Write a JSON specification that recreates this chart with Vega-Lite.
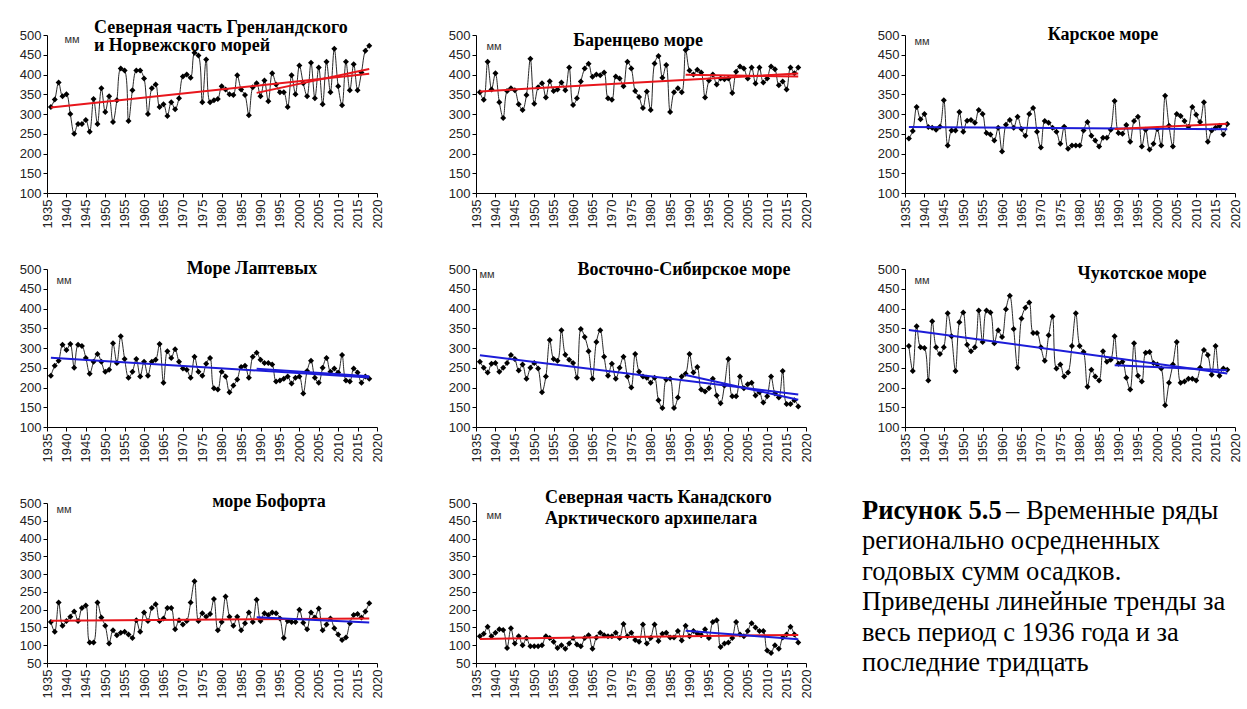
{
"$schema": "https://vega.github.io/schema/vega-lite/v6.json",
"background": "white",
"padding": {"left": 19, "top": 19, "right": 5, "bottom": 5},
"bounds": "flush",
"columns": 3,
"spacing": {"row": 76, "column": 99},
"datasets": {
"G": [{"y":1936,"v":318},{"y":1937,"v":337},{"y":1938,"v":380},{"y":1939,"v":345},{"y":1940,"v":350},{"y":1941,"v":300},{"y":1942,"v":250},{"y":1943,"v":275},{"y":1944,"v":275},{"y":1945,"v":285},
{"y":1946,"v":255},{"y":1947,"v":338},{"y":1948,"v":275},{"y":1949,"v":365},{"y":1950,"v":305},{"y":1951,"v":345},{"y":1952,"v":280},{"y":1953,"v":335},{"y":1954,"v":415},{"y":1955,"v":410},
{"y":1956,"v":282},{"y":1957,"v":360},{"y":1958,"v":410},{"y":1959,"v":410},{"y":1960,"v":390},{"y":1961,"v":300},{"y":1962,"v":365},{"y":1963,"v":375},{"y":1964,"v":318},{"y":1965,"v":325},
{"y":1966,"v":295},{"y":1967,"v":330},{"y":1968,"v":312},{"y":1969,"v":340},{"y":1970,"v":395},{"y":1971,"v":400},{"y":1972,"v":392},{"y":1973,"v":455},{"y":1974,"v":448},{"y":1975,"v":330},
{"y":1976,"v":438},{"y":1977,"v":330},{"y":1978,"v":335},{"y":1979,"v":338},{"y":1980,"v":370},{"y":1981,"v":362},{"y":1982,"v":350},{"y":1983,"v":348},{"y":1984,"v":398},{"y":1985,"v":362},
{"y":1986,"v":348},{"y":1987,"v":297},{"y":1988,"v":368},{"y":1989,"v":378},{"y":1990,"v":345},{"y":1991,"v":385},{"y":1992,"v":332},{"y":1993,"v":403},{"y":1994,"v":375},{"y":1995,"v":355},
{"y":1996,"v":355},{"y":1997,"v":318},{"y":1998,"v":398},{"y":1999,"v":350},{"y":2000,"v":423},{"y":2001,"v":378},{"y":2002,"v":345},{"y":2003,"v":430},{"y":2004,"v":340},{"y":2005,"v":418},
{"y":2006,"v":325},{"y":2007,"v":432},{"y":2008,"v":355},{"y":2009,"v":465},{"y":2010,"v":370},{"y":2011,"v":322},{"y":2012,"v":432},{"y":2013,"v":360},{"y":2014,"v":426},{"y":2015,"v":360},
{"y":2016,"v":405},{"y":2017,"v":460},{"y":2018,"v":473}],
"B": [{"y":1936,"v":355},{"y":1937,"v":336},{"y":1938,"v":432},{"y":1939,"v":362},{"y":1940,"v":403},{"y":1941,"v":330},{"y":1942,"v":290},{"y":1943,"v":358},{"y":1944,"v":365},{"y":1945,"v":360},
{"y":1946,"v":325},{"y":1947,"v":310},{"y":1948,"v":348},{"y":1949,"v":440},{"y":1950,"v":326},{"y":1951,"v":368},{"y":1952,"v":378},{"y":1953,"v":342},{"y":1954,"v":383},{"y":1955,"v":358},
{"y":1956,"v":362},{"y":1957,"v":380},{"y":1958,"v":360},{"y":1959,"v":418},{"y":1960,"v":323},{"y":1961,"v":340},{"y":1962,"v":382},{"y":1963,"v":415},{"y":1964,"v":427},{"y":1965,"v":394},
{"y":1966,"v":400},{"y":1967,"v":398},{"y":1968,"v":405},{"y":1969,"v":340},{"y":1970,"v":336},{"y":1971,"v":395},{"y":1972,"v":390},{"y":1973,"v":370},{"y":1974,"v":432},{"y":1975,"v":415},
{"y":1976,"v":358},{"y":1977,"v":343},{"y":1978,"v":315},{"y":1979,"v":357},{"y":1980,"v":310},{"y":1981,"v":428},{"y":1982,"v":447},{"y":1983,"v":392},{"y":1984,"v":424},{"y":1985,"v":305},
{"y":1986,"v":355},{"y":1987,"v":365},{"y":1988,"v":355},{"y":1989,"v":462},{"y":1990,"v":410},{"y":1991,"v":400},{"y":1992,"v":412},{"y":1993,"v":405},{"y":1994,"v":342},{"y":1995,"v":385},
{"y":1996,"v":400},{"y":1997,"v":375},{"y":1998,"v":390},{"y":1999,"v":388},{"y":2000,"v":390},{"y":2001,"v":353},{"y":2002,"v":407},{"y":2003,"v":420},{"y":2004,"v":415},{"y":2005,"v":390},
{"y":2006,"v":418},{"y":2007,"v":377},{"y":2008,"v":418},{"y":2009,"v":380},{"y":2010,"v":390},{"y":2011,"v":420},{"y":2012,"v":413},{"y":2013,"v":373},{"y":2014,"v":382},{"y":2015,"v":362},
{"y":2016,"v":418},{"y":2017,"v":403},{"y":2018,"v":418}],
"K": [{"y":1936,"v":238},{"y":1937,"v":257},{"y":1938,"v":318},{"y":1939,"v":287},{"y":1940,"v":300},{"y":1941,"v":267},{"y":1942,"v":265},{"y":1943,"v":260},{"y":1944,"v":268},{"y":1945,"v":335},
{"y":1946,"v":220},{"y":1947,"v":258},{"y":1948,"v":258},{"y":1949,"v":305},{"y":1950,"v":255},{"y":1951,"v":283},{"y":1952,"v":285},{"y":1953,"v":278},{"y":1954,"v":310},{"y":1955,"v":300},
{"y":1956,"v":252},{"y":1957,"v":248},{"y":1958,"v":233},{"y":1959,"v":265},{"y":1960,"v":205},{"y":1961,"v":273},{"y":1962,"v":285},{"y":1963,"v":265},{"y":1964,"v":293},{"y":1965,"v":262},
{"y":1966,"v":245},{"y":1967,"v":300},{"y":1968,"v":315},{"y":1969,"v":255},{"y":1970,"v":215},{"y":1971,"v":282},{"y":1972,"v":278},{"y":1973,"v":265},{"y":1974,"v":255},{"y":1975,"v":225},
{"y":1976,"v":268},{"y":1977,"v":212},{"y":1978,"v":220},{"y":1979,"v":220},{"y":1980,"v":220},{"y":1981,"v":258},{"y":1982,"v":280},{"y":1983,"v":245},{"y":1984,"v":233},{"y":1985,"v":218},
{"y":1986,"v":240},{"y":1987,"v":240},{"y":1988,"v":260},{"y":1989,"v":333},{"y":1990,"v":252},{"y":1991,"v":250},{"y":1992,"v":272},{"y":1993,"v":230},{"y":1994,"v":282},{"y":1995,"v":293},
{"y":1996,"v":218},{"y":1997,"v":260},{"y":1998,"v":210},{"y":1999,"v":225},{"y":2000,"v":262},{"y":2001,"v":220},{"y":2002,"v":346},{"y":2003,"v":270},{"y":2004,"v":218},{"y":2005,"v":300},
{"y":2006,"v":295},{"y":2007,"v":282},{"y":2008,"v":268},{"y":2009,"v":318},{"y":2010,"v":298},{"y":2011,"v":280},{"y":2012,"v":330},{"y":2013,"v":230},{"y":2014,"v":258},{"y":2015,"v":265},
{"y":2016,"v":270},{"y":2017,"v":248},{"y":2018,"v":275}],
"L": [{"y":1936,"v":230},{"y":1937,"v":255},{"y":1938,"v":268},{"y":1939,"v":308},{"y":1940,"v":295},{"y":1941,"v":310},{"y":1942,"v":250},{"y":1943,"v":308},{"y":1944,"v":305},{"y":1945,"v":275},
{"y":1946,"v":235},{"y":1947,"v":265},{"y":1948,"v":285},{"y":1949,"v":265},{"y":1950,"v":240},{"y":1951,"v":245},{"y":1952,"v":312},{"y":1953,"v":262},{"y":1954,"v":330},{"y":1955,"v":272},
{"y":1956,"v":225},{"y":1957,"v":240},{"y":1958,"v":272},{"y":1959,"v":228},{"y":1960,"v":265},{"y":1961,"v":230},{"y":1962,"v":265},{"y":1963,"v":270},{"y":1964,"v":310},{"y":1965,"v":212},
{"y":1966,"v":292},{"y":1967,"v":275},{"y":1968,"v":297},{"y":1969,"v":265},{"y":1970,"v":248},{"y":1971,"v":245},{"y":1972,"v":225},{"y":1973,"v":278},{"y":1974,"v":240},{"y":1975,"v":230},
{"y":1976,"v":260},{"y":1977,"v":275},{"y":1978,"v":198},{"y":1979,"v":195},{"y":1980,"v":240},{"y":1981,"v":228},{"y":1982,"v":188},{"y":1983,"v":205},{"y":1984,"v":220},{"y":1985,"v":252},
{"y":1986,"v":255},{"y":1987,"v":225},{"y":1988,"v":278},{"y":1989,"v":288},{"y":1990,"v":270},{"y":1991,"v":262},{"y":1992,"v":262},{"y":1993,"v":258},{"y":1994,"v":215},{"y":1995,"v":218},
{"y":1996,"v":222},{"y":1997,"v":228},{"y":1998,"v":210},{"y":1999,"v":225},{"y":2000,"v":228},{"y":2001,"v":185},{"y":2002,"v":242},{"y":2003,"v":268},{"y":2004,"v":225},{"y":2005,"v":212},
{"y":2006,"v":250},{"y":2007,"v":275},{"y":2008,"v":240},{"y":2009,"v":248},{"y":2010,"v":238},{"y":2011,"v":282},{"y":2012,"v":218},{"y":2013,"v":215},{"y":2014,"v":248},{"y":2015,"v":238},
{"y":2016,"v":212},{"y":2017,"v":228},{"y":2018,"v":222}],
"E": [{"y":1936,"v":265},{"y":1937,"v":250},{"y":1938,"v":238},{"y":1939,"v":260},{"y":1940,"v":262},{"y":1941,"v":240},{"y":1942,"v":250},{"y":1943,"v":262},{"y":1944,"v":282},{"y":1945,"v":272},
{"y":1946,"v":243},{"y":1947,"v":258},{"y":1948,"v":222},{"y":1949,"v":250},{"y":1950,"v":262},{"y":1951,"v":248},{"y":1952,"v":188},{"y":1953,"v":228},{"y":1954,"v":320},{"y":1955,"v":272},
{"y":1956,"v":268},{"y":1957,"v":345},{"y":1958,"v":283},{"y":1959,"v":270},{"y":1960,"v":262},{"y":1961,"v":225},{"y":1962,"v":348},{"y":1963,"v":328},{"y":1964,"v":292},{"y":1965,"v":222},
{"y":1966,"v":315},{"y":1967,"v":345},{"y":1968,"v":278},{"y":1969,"v":230},{"y":1970,"v":260},{"y":1971,"v":222},{"y":1972,"v":250},{"y":1973,"v":278},{"y":1974,"v":228},{"y":1975,"v":200},
{"y":1976,"v":285},{"y":1977,"v":240},{"y":1978,"v":228},{"y":1979,"v":225},{"y":1980,"v":212},{"y":1981,"v":225},{"y":1982,"v":168},{"y":1983,"v":148},{"y":1984,"v":220},{"y":1985,"v":222},
{"y":1986,"v":148},{"y":1987,"v":175},{"y":1988,"v":228},{"y":1989,"v":235},{"y":1990,"v":285},{"y":1991,"v":238},{"y":1992,"v":252},{"y":1993,"v":195},{"y":1994,"v":190},{"y":1995,"v":198},
{"y":1996,"v":222},{"y":1997,"v":180},{"y":1998,"v":160},{"y":1999,"v":205},{"y":2000,"v":272},{"y":2001,"v":178},{"y":2002,"v":178},{"y":2003,"v":228},{"y":2004,"v":198},{"y":2005,"v":208},
{"y":2006,"v":212},{"y":2007,"v":180},{"y":2008,"v":188},{"y":2009,"v":162},{"y":2010,"v":178},{"y":2011,"v":228},{"y":2012,"v":185},{"y":2013,"v":175},{"y":2014,"v":242},{"y":2015,"v":158},
{"y":2016,"v":158},{"y":2017,"v":168},{"y":2018,"v":152}],
"C": [{"y":1936,"v":305},{"y":1937,"v":242},{"y":1938,"v":355},{"y":1939,"v":302},{"y":1940,"v":300},{"y":1941,"v":218},{"y":1942,"v":368},{"y":1943,"v":302},{"y":1944,"v":285},{"y":1945,"v":302},
{"y":1946,"v":388},{"y":1947,"v":330},{"y":1948,"v":242},{"y":1949,"v":365},{"y":1950,"v":390},{"y":1951,"v":308},{"y":1952,"v":292},{"y":1953,"v":302},{"y":1954,"v":395},{"y":1955,"v":315},
{"y":1956,"v":395},{"y":1957,"v":390},{"y":1958,"v":312},{"y":1959,"v":345},{"y":1960,"v":328},{"y":1961,"v":398},{"y":1962,"v":432},{"y":1963,"v":348},{"y":1964,"v":250},{"y":1965,"v":375},
{"y":1966,"v":402},{"y":1967,"v":415},{"y":1968,"v":338},{"y":1969,"v":338},{"y":1970,"v":302},{"y":1971,"v":268},{"y":1972,"v":332},{"y":1973,"v":380},{"y":1974,"v":248},{"y":1975,"v":258},
{"y":1976,"v":228},{"y":1977,"v":238},{"y":1978,"v":305},{"y":1979,"v":388},{"y":1980,"v":305},{"y":1981,"v":290},{"y":1982,"v":202},{"y":1983,"v":245},{"y":1984,"v":228},{"y":1985,"v":218},
{"y":1986,"v":292},{"y":1987,"v":265},{"y":1988,"v":270},{"y":1989,"v":330},{"y":1990,"v":260},{"y":1991,"v":265},{"y":1992,"v":225},{"y":1993,"v":195},{"y":1994,"v":312},{"y":1995,"v":230},
{"y":1996,"v":215},{"y":1997,"v":288},{"y":1998,"v":290},{"y":1999,"v":262},{"y":2000,"v":258},{"y":2001,"v":248},{"y":2002,"v":155},{"y":2003,"v":212},{"y":2004,"v":258},{"y":2005,"v":315},
{"y":2006,"v":212},{"y":2007,"v":215},{"y":2008,"v":222},{"y":2009,"v":222},{"y":2010,"v":218},{"y":2011,"v":250},{"y":2012,"v":295},{"y":2013,"v":282},{"y":2014,"v":232},{"y":2015,"v":305},
{"y":2016,"v":230},{"y":2017,"v":248},{"y":2018,"v":245}],
"F": [{"y":1936,"v":165},{"y":1937,"v":138},{"y":1938,"v":220},{"y":1939,"v":155},{"y":1940,"v":168},{"y":1941,"v":180},{"y":1942,"v":195},{"y":1943,"v":168},{"y":1944,"v":205},{"y":1945,"v":212},
{"y":1946,"v":108},{"y":1947,"v":108},{"y":1948,"v":220},{"y":1949,"v":178},{"y":1950,"v":155},{"y":1951,"v":105},{"y":1952,"v":142},{"y":1953,"v":128},{"y":1954,"v":135},{"y":1955,"v":138},
{"y":1956,"v":130},{"y":1957,"v":120},{"y":1958,"v":170},{"y":1959,"v":138},{"y":1960,"v":192},{"y":1961,"v":168},{"y":1962,"v":205},{"y":1963,"v":215},{"y":1964,"v":168},{"y":1965,"v":175},
{"y":1966,"v":205},{"y":1967,"v":205},{"y":1968,"v":145},{"y":1969,"v":170},{"y":1970,"v":158},{"y":1971,"v":168},{"y":1972,"v":220},{"y":1973,"v":280},{"y":1974,"v":168},{"y":1975,"v":190},
{"y":1976,"v":180},{"y":1977,"v":188},{"y":1978,"v":230},{"y":1979,"v":142},{"y":1980,"v":165},{"y":1981,"v":237},{"y":1982,"v":180},{"y":1983,"v":155},{"y":1984,"v":180},{"y":1985,"v":142},
{"y":1986,"v":162},{"y":1987,"v":192},{"y":1988,"v":165},{"y":1989,"v":228},{"y":1990,"v":168},{"y":1991,"v":190},{"y":1992,"v":185},{"y":1993,"v":192},{"y":1994,"v":190},{"y":1995,"v":175},
{"y":1996,"v":120},{"y":1997,"v":168},{"y":1998,"v":165},{"y":1999,"v":165},{"y":2000,"v":200},{"y":2001,"v":163},{"y":2002,"v":145},{"y":2003,"v":192},{"y":2004,"v":178},{"y":2005,"v":203},
{"y":2006,"v":142},{"y":2007,"v":158},{"y":2008,"v":175},{"y":2009,"v":148},{"y":2010,"v":130},{"y":2011,"v":115},{"y":2012,"v":122},{"y":2013,"v":162},{"y":2014,"v":185},{"y":2015,"v":188},
{"y":2016,"v":178},{"y":2017,"v":195},{"y":2018,"v":218}],
"N": [{"y":1936,"v":125},{"y":1937,"v":132},{"y":1938,"v":152},{"y":1939,"v":125},{"y":1940,"v":135},{"y":1941,"v":145},{"y":1942,"v":143},{"y":1943,"v":92},{"y":1944,"v":148},{"y":1945,"v":105},
{"y":1946,"v":125},{"y":1947,"v":100},{"y":1948,"v":120},{"y":1949,"v":97},{"y":1950,"v":97},{"y":1951,"v":97},{"y":1952,"v":100},{"y":1953,"v":125},{"y":1954,"v":120},{"y":1955,"v":110},
{"y":1956,"v":92},{"y":1957,"v":100},{"y":1958,"v":90},{"y":1959,"v":105},{"y":1960,"v":120},{"y":1961,"v":102},{"y":1962,"v":97},{"y":1963,"v":120},{"y":1964,"v":128},{"y":1965,"v":90},
{"y":1966,"v":122},{"y":1967,"v":135},{"y":1968,"v":128},{"y":1969,"v":125},{"y":1970,"v":125},{"y":1971,"v":135},{"y":1972,"v":120},{"y":1973,"v":160},{"y":1974,"v":125},{"y":1975,"v":135},
{"y":1976,"v":115},{"y":1977,"v":110},{"y":1978,"v":158},{"y":1979,"v":105},{"y":1980,"v":120},{"y":1981,"v":158},{"y":1982,"v":112},{"y":1983,"v":132},{"y":1984,"v":135},{"y":1985,"v":122},
{"y":1986,"v":122},{"y":1987,"v":140},{"y":1988,"v":113},{"y":1989,"v":155},{"y":1990,"v":125},{"y":1991,"v":140},{"y":1992,"v":133},{"y":1993,"v":128},{"y":1994,"v":145},{"y":1995,"v":120},
{"y":1996,"v":165},{"y":1997,"v":170},{"y":1998,"v":95},{"y":1999,"v":105},{"y":2000,"v":108},{"y":2001,"v":120},{"y":2002,"v":165},{"y":2003,"v":130},{"y":2004,"v":125},{"y":2005,"v":140},
{"y":2006,"v":162},{"y":2007,"v":150},{"y":2008,"v":140},{"y":2009,"v":140},{"y":2010,"v":85},{"y":2011,"v":78},{"y":2012,"v":100},{"y":2013,"v":90},{"y":2014,"v":122},{"y":2015,"v":130},
{"y":2016,"v":152},{"y":2017,"v":130},{"y":2018,"v":108}],
"CAP0": [{"i":0,"t":"Рисунок 5.5"}],
"CAP1": [{"i":0,"t":"– Временные ряды"}],
"CAP2": [{"i":1,"t":"регионально осредненных"},{"i":2,"t":"годовых сумм осадков."},{"i":3,"t":"Приведены линейные тренды за"},{"i":4,"t":"весь период с 1936 года и за"},{"i":5,"t":"последние тридцать"}]
},
"concat": [
{"data":{"name":"G"},"width":330,"height":158,
 "title":{"text":["Северная часть Гренландского","и Норвежского морей"],"anchor":"start","frame":"group","dx":47,"offset":-26,"lineHeight":18},
 "encoding":{"x":{"field":"y","type":"quantitative","title":null,"scale":{"domain":[1935,2020],"nice":false},"axis":{"values":[1935,1940,1945,1950,1955,1960,1965,1970,1975,1980,1985,1990,1995,2000,2005,2010,2015,2020],"labelAngle":-90,"format":"d"}},
  "y":{"field":"v","type":"quantitative","scale":{"domain":[100,500],"nice":false},"axis":{"values":[100,150,200,250,300,350,400,450,500],"title":"мм","titleX":17,"titleY":4}}},
 "layer":[
  {"mark":{"type":"line","color":"#111","strokeWidth":0.9,"interpolate":"catmull-rom"},"encoding":{}},
  {"mark":{"type":"point","shape":"diamond","filled":true,"color":"#000","size":36,"opacity":1},"encoding":{}},
  {"transform":[{"regression":"v","on":"y"}],"mark":{"type":"line","color":"#e8161c","strokeWidth":2},"encoding":{}},
  {"transform":[{"filter":"datum.y >= 1989"},{"regression":"v","on":"y"}],"mark":{"type":"line","color":"#e8161c","strokeWidth":2},"encoding":{}}
 ]},
{"data":{"name":"B"},"width":330,"height":158,
 "title":{"text":"Баренцево море","anchor":"middle","frame":"group","dx":-3,"offset":-21},
 "encoding":{"x":{"field":"y","type":"quantitative","title":null,"scale":{"domain":[1935,2020],"nice":false},"axis":{"values":[1935,1940,1945,1950,1955,1960,1965,1970,1975,1980,1985,1990,1995,2000,2005,2010,2015,2020],"labelAngle":-90,"format":"d"}},
  "y":{"field":"v","type":"quantitative","scale":{"domain":[100,500],"nice":false},"axis":{"values":[100,150,200,250,300,350,400,450,500],"title":"мм","titleX":10,"titleY":11}}},
 "layer":[
  {"mark":{"type":"line","color":"#111","strokeWidth":0.9,"interpolate":"catmull-rom"},"encoding":{}},
  {"mark":{"type":"point","shape":"diamond","filled":true,"color":"#000","size":36,"opacity":1},"encoding":{}},
  {"transform":[{"regression":"v","on":"y"}],"mark":{"type":"line","color":"#e8161c","strokeWidth":2},"encoding":{}},
  {"transform":[{"filter":"datum.y >= 1989"},{"regression":"v","on":"y"}],"mark":{"type":"line","color":"#e8161c","strokeWidth":2},"encoding":{}}
 ]},
{"data":{"name":"K"},"width":330,"height":158,
 "title":{"text":"Карское море","anchor":"middle","frame":"group","dx":33,"offset":-15},
 "encoding":{"x":{"field":"y","type":"quantitative","title":null,"scale":{"domain":[1935,2020],"nice":false},"axis":{"values":[1935,1940,1945,1950,1955,1960,1965,1970,1975,1980,1985,1990,1995,2000,2005,2010,2015,2020],"labelAngle":-90,"format":"d"}},
  "y":{"field":"v","type":"quantitative","scale":{"domain":[100,500],"nice":false},"axis":{"values":[100,150,200,250,300,350,400,450,500],"title":"мм","titleX":9,"titleY":6}}},
 "layer":[
  {"mark":{"type":"line","color":"#111","strokeWidth":0.9,"interpolate":"catmull-rom"},"encoding":{}},
  {"mark":{"type":"point","shape":"diamond","filled":true,"color":"#000","size":36,"opacity":1},"encoding":{}},
  {"transform":[{"regression":"v","on":"y"}],"mark":{"type":"line","color":"#1c1cd8","strokeWidth":2},"encoding":{}},
  {"transform":[{"filter":"datum.y >= 1989"},{"regression":"v","on":"y"}],"mark":{"type":"line","color":"#e8161c","strokeWidth":2},"encoding":{}}
 ]},
{"data":{"name":"L"},"width":330,"height":158,
 "title":{"text":"Море Лаптевых","anchor":"middle","frame":"group","dx":40,"offset":-15},
 "encoding":{"x":{"field":"y","type":"quantitative","title":null,"scale":{"domain":[1935,2020],"nice":false},"axis":{"values":[1935,1940,1945,1950,1955,1960,1965,1970,1975,1980,1985,1990,1995,2000,2005,2010,2015,2020],"labelAngle":-90,"format":"d"}},
  "y":{"field":"v","type":"quantitative","scale":{"domain":[100,500],"nice":false},"axis":{"values":[100,150,200,250,300,350,400,450,500],"title":"мм","titleX":9,"titleY":11}}},
 "layer":[
  {"mark":{"type":"line","color":"#111","strokeWidth":0.9,"interpolate":"catmull-rom"},"encoding":{}},
  {"mark":{"type":"point","shape":"diamond","filled":true,"color":"#000","size":36,"opacity":1},"encoding":{}},
  {"transform":[{"regression":"v","on":"y"}],"mark":{"type":"line","color":"#1c1cd8","strokeWidth":2},"encoding":{}},
  {"transform":[{"filter":"datum.y >= 1989"},{"regression":"v","on":"y"}],"mark":{"type":"line","color":"#1c1cd8","strokeWidth":2},"encoding":{}}
 ]},
{"data":{"name":"E"},"width":330,"height":158,
 "title":{"text":"Восточно-Сибирское море","anchor":"middle","frame":"group","dx":43,"offset":-16},
 "encoding":{"x":{"field":"y","type":"quantitative","title":null,"scale":{"domain":[1935,2020],"nice":false},"axis":{"values":[1935,1940,1945,1950,1955,1960,1965,1970,1975,1980,1985,1990,1995,2000,2005,2010,2015,2020],"labelAngle":-90,"format":"d"}},
  "y":{"field":"v","type":"quantitative","scale":{"domain":[100,500],"nice":false},"axis":{"values":[100,150,200,250,300,350,400,450,500],"title":"мм","titleX":3,"titleY":5}}},
 "layer":[
  {"mark":{"type":"line","color":"#111","strokeWidth":0.9,"interpolate":"catmull-rom"},"encoding":{}},
  {"mark":{"type":"point","shape":"diamond","filled":true,"color":"#000","size":36,"opacity":1},"encoding":{}},
  {"transform":[{"regression":"v","on":"y"}],"mark":{"type":"line","color":"#1c1cd8","strokeWidth":2},"encoding":{}},
  {"transform":[{"filter":"datum.y >= 1989"},{"regression":"v","on":"y"}],"mark":{"type":"line","color":"#1c1cd8","strokeWidth":2},"encoding":{}}
 ]},
{"data":{"name":"C"},"width":330,"height":158,
 "title":{"text":"Чукотское море","anchor":"middle","frame":"group","dx":72,"offset":-20},
 "encoding":{"x":{"field":"y","type":"quantitative","title":null,"scale":{"domain":[1935,2020],"nice":false},"axis":{"values":[1935,1940,1945,1950,1955,1960,1965,1970,1975,1980,1985,1990,1995,2000,2005,2010,2015,2020],"labelAngle":-90,"format":"d"}},
  "y":{"field":"v","type":"quantitative","scale":{"domain":[100,500],"nice":false},"axis":{"values":[100,150,200,250,300,350,400,450,500],"title":"мм","titleX":9,"titleY":11}}},
 "layer":[
  {"mark":{"type":"line","color":"#111","strokeWidth":0.9,"interpolate":"catmull-rom"},"encoding":{}},
  {"mark":{"type":"point","shape":"diamond","filled":true,"color":"#000","size":36,"opacity":1},"encoding":{}},
  {"transform":[{"regression":"v","on":"y"}],"mark":{"type":"line","color":"#1c1cd8","strokeWidth":2},"encoding":{}},
  {"transform":[{"filter":"datum.y >= 1989"},{"regression":"v","on":"y"}],"mark":{"type":"line","color":"#1c1cd8","strokeWidth":2},"encoding":{}}
 ]},
{"data":{"name":"F"},"width":330,"height":160,
 "title":{"text":"море Бофорта","anchor":"middle","frame":"group","dx":57,"offset":-14},
 "encoding":{"x":{"field":"y","type":"quantitative","title":null,"scale":{"domain":[1935,2020],"nice":false},"axis":{"values":[1935,1940,1945,1950,1955,1960,1965,1970,1975,1980,1985,1990,1995,2000,2005,2010,2015,2020],"labelAngle":-90,"format":"d"}},
  "y":{"field":"v","type":"quantitative","scale":{"domain":[50,500],"nice":false},"axis":{"values":[50,100,150,200,250,300,350,400,450,500],"title":"мм","titleX":9,"titleY":6}}},
 "layer":[
  {"mark":{"type":"line","color":"#111","strokeWidth":0.9,"interpolate":"catmull-rom"},"encoding":{}},
  {"mark":{"type":"point","shape":"diamond","filled":true,"color":"#000","size":36,"opacity":1},"encoding":{}},
  {"transform":[{"regression":"v","on":"y"}],"mark":{"type":"line","color":"#e8161c","strokeWidth":2},"encoding":{}},
  {"transform":[{"filter":"datum.y >= 1989"},{"regression":"v","on":"y"}],"mark":{"type":"line","color":"#1c1cd8","strokeWidth":2},"encoding":{}}
 ]},
{"data":{"name":"N"},"width":330,"height":160,
 "title":{"text":["Северная часть Канадского","Арктического архипелага"],"anchor":"start","frame":"group","dx":69,"offset":-31,"lineHeight":21},
 "encoding":{"x":{"field":"y","type":"quantitative","title":null,"scale":{"domain":[1935,2020],"nice":false},"axis":{"values":[1935,1940,1945,1950,1955,1960,1965,1970,1975,1980,1985,1990,1995,2000,2005,2010,2015,2020],"labelAngle":-90,"format":"d"}},
  "y":{"field":"v","type":"quantitative","scale":{"domain":[50,500],"nice":false},"axis":{"values":[50,100,150,200,250,300,350,400,450,500],"title":"мм","titleX":10,"titleY":12}}},
 "layer":[
  {"mark":{"type":"line","color":"#111","strokeWidth":0.9,"interpolate":"catmull-rom"},"encoding":{}},
  {"mark":{"type":"point","shape":"diamond","filled":true,"color":"#000","size":36,"opacity":1},"encoding":{}},
  {"transform":[{"regression":"v","on":"y"}],"mark":{"type":"line","color":"#e8161c","strokeWidth":2},"encoding":{}},
  {"transform":[{"filter":"datum.y >= 1989"},{"regression":"v","on":"y"}],"mark":{"type":"line","color":"#1c1cd8","strokeWidth":2},"encoding":{}}
 ]},
{"width":330,"height":160,
 "layer":[
  {"data":{"name":"CAP0"},"mark":{"type":"text","align":"left","baseline":"middle","font":"Liberation Serif","fontSize":26.5,"fontWeight":"bold","color":"#000","dx":-43},
   "encoding":{"x":{"value":0},"y":{"field":"i","type":"quantitative","scale":{"domain":[-0.263,5],"reverse":true},"axis":null},"text":{"field":"t"}}},
  {"data":{"name":"CAP1"},"mark":{"type":"text","align":"left","baseline":"middle","font":"Liberation Serif","fontSize":26.5,"color":"#000","dx":101},
   "encoding":{"x":{"value":0},"y":{"field":"i","type":"quantitative","scale":{"domain":[-0.263,5],"reverse":true},"axis":null},"text":{"field":"t"}}},
  {"data":{"name":"CAP2"},"mark":{"type":"text","align":"left","baseline":"middle","font":"Liberation Serif","fontSize":26.5,"color":"#000","dx":-43},
   "encoding":{"x":{"value":0},"y":{"field":"i","type":"quantitative","scale":{"domain":[-0.263,5],"reverse":true},"axis":null},"text":{"field":"t"}}}
 ]}
],
"config": {
 "view": {"stroke": null},
 "axis": {"grid": false, "domainColor": "#000", "tickColor": "#000", "tickSize": 4, "labelFont": "Liberation Sans", "labelFontSize": 13, "labelColor": "#222", "labelPadding": 2},
 "axisY": {"titleAngle": 0, "titleAlign": "left", "titleBaseline": "middle", "titleFont": "Liberation Sans", "titleFontSize": 11, "titleFontWeight": "normal", "titleColor": "#333"},
 "title": {"font": "Liberation Serif", "fontSize": 18, "fontWeight": "bold", "color": "#000", "lineHeight": 19}
}
}
